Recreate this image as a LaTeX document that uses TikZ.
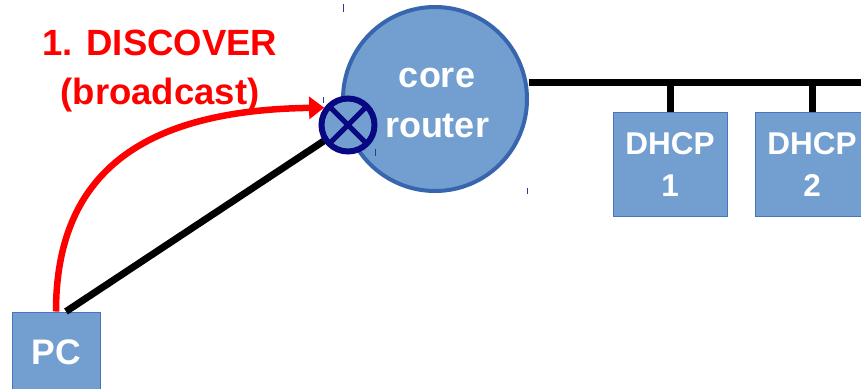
\documentclass[tikz,border=0pt]{standalone}
\usepackage{fontspec}
\setmainfont{Liberation Sans}
\usetikzlibrary{arrows.meta}
\definecolor{hostfill}{RGB}{114,159,207}
\definecolor{hostedge}{RGB}{70,116,190}
\definecolor{routeredge}{RGB}{56,102,174}
\definecolor{portnavy}{RGB}{8,8,130}
\definecolor{handle}{RGB}{40,60,150}
\tikzset{
  hostbox/.style={rectangle, draw=hostedge, line width=1pt, fill=hostfill,
    text=white, align=center, inner sep=0pt},
  wire/.style={line width=7pt, black},
  bcast/.style={line width=6.5pt, red, -{Triangle[length=15pt,width=22pt]}},
  tick/.style={line width=0.9pt, handle},
  bigtxt/.style={font=\bfseries\fontsize{36.5}{49}\selectfont},
}
\begin{document}
\begin{tikzpicture}[x=1pt,y=-1pt]
\useasboundingbox (0,0) rectangle (861,388);
\clip (0,0) rectangle (861,388);

% core router
\node[circle, draw=routeredge, line width=4pt, fill=hostfill, minimum size=184pt,
      inner sep=0pt] (router) at (435,99) {};
\node[text=white, align=center, inner sep=0pt,
      font=\bfseries\fontsize{36}{50}\selectfont] (routerlabel) at (437,103) {core\\router};

% LAN bus with the DHCP servers
\coordinate (busend) at (861,82);
\node[hostbox, minimum width=114pt, minimum height=104pt,
      font=\bfseries\fontsize{31.5}{42}\selectfont] (dhcp1) at (670,164) {DHCP\\1};
\node[hostbox, minimum width=114pt, minimum height=104pt,
      font=\bfseries\fontsize{31.5}{42}\selectfont] (dhcp2) at (812,164) {DHCP\\2};
\draw[wire] (router.east |- busend) -- (busend);
\draw[wire] (dhcp1.north) -- (dhcp1.north |- busend);
\draw[wire] (dhcp2.north) -- (dhcp2.north |- busend);

% client
\node[hostbox, minimum width=88pt, minimum height=80pt,
      font=\bfseries\fontsize{35.5}{44}\selectfont] (pc) at (56,352) {PC};
\coordinate (pcport) at ([xshift=10pt]pc.north);

% router port
\coordinate (portpos) at (348,125);
\draw[wire] (pcport) -- (portpos);
\node[circle, draw=portnavy, line width=6pt, fill=hostfill, minimum size=53pt,
      inner sep=0pt,
      path picture={\draw[portnavy, line width=5pt]
        (path picture bounding box.north west) -- (path picture bounding box.south east)
        (path picture bounding box.north east) -- (path picture bounding box.south west);}]
      (port) at (portpos) {};

% broadcast discover
\draw[bcast] (pc.north) .. controls (56,160) and (160,110) .. (port.144);
\node[bigtxt, text=red, align=center] (msg) at (160,71) {1. DISCOVER\\(broadcast)};

% selection handles
\draw[tick] (343,4) -- (343,12);
\draw[tick] (323,97) -- (323,103);
\draw[tick] (375,149) -- (375,156);
\draw[tick] (527,188) -- (527,194);
\end{tikzpicture}
\end{document}
